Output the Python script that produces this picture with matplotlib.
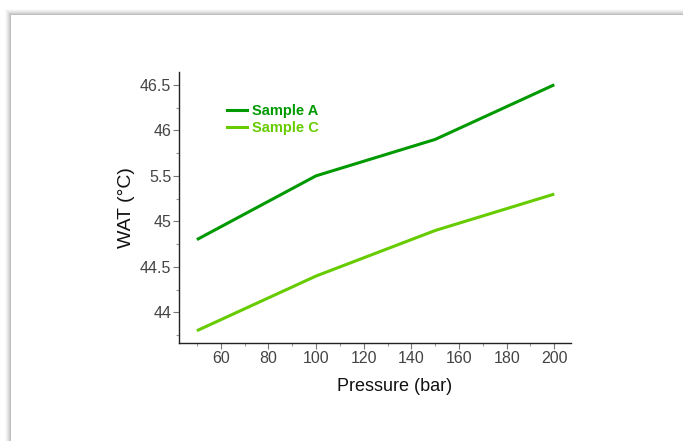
import matplotlib
matplotlib.use("Agg")
import matplotlib.pyplot as plt
from matplotlib.patches import Rectangle
from matplotlib.ticker import MultipleLocator, FixedLocator, FixedFormatter
from matplotlib.lines import Line2D

plt.rcParams['font.family'] = ['Liberation Sans', 'DejaVu Sans']

# data
pressure = [50, 100, 150, 200]
sample_a = [44.8, 45.5, 45.9, 46.5]
sample_c = [43.8, 44.4, 44.9, 45.3]
y_ticks = [44, 44.5, 45, 45.5, 46, 46.5]
y_tick_labels = ['44', '44.5', '45', '5.5', '46', '46.5']
x_ticks = [60, 80, 100, 120, 140, 160, 180, 200]

color_a = '#009a00'
color_c = '#66cc00'

W, H = 683, 441
fig = plt.figure(figsize=(W / 100, H / 100), dpi=100)
fig.patch.set_facecolor('white')

# page panel with a soft shadow on the top/left edges
for i, a in enumerate([0.02, 0.03, 0.04, 0.05, 0.06, 0.08]):
    off = 6 - i
    fig.patches.append(Rectangle(((11 - off) / W, 0), 1, (H - 15 + off) / H,
                                 transform=fig.transFigure, facecolor='black',
                                 alpha=a, edgecolor='none', zorder=-2))
fig.patches.append(Rectangle((11 / W, 0), 1, (H - 15) / H,
                             transform=fig.transFigure, facecolor='white',
                             edgecolor='none', zorder=-1))

ax = fig.add_axes([179 / W, (H - 343) / H, (571 - 179) / W, (343 - 72) / H])
ax.set_zorder(2)
ax.set_facecolor('none')

ax.plot(pressure, sample_a, color=color_a, lw=2.2, solid_capstyle='butt')
ax.plot(pressure, sample_c, color=color_c, lw=2.2, solid_capstyle='butt')

ax.set_xlim(42.5, 207)
ax.set_ylim(43.665, 46.64)

ax.xaxis.set_major_locator(FixedLocator(x_ticks))
ax.xaxis.set_minor_locator(MultipleLocator(10))
ax.yaxis.set_major_locator(FixedLocator(y_ticks))
ax.yaxis.set_major_formatter(FixedFormatter(y_tick_labels))
ax.yaxis.set_minor_locator(MultipleLocator(0.25))

for s in ['top', 'right']:
    ax.spines[s].set_visible(False)
for s in ['left', 'bottom']:
    ax.spines[s].set_color('#222222')
    ax.spines[s].set_linewidth(1.0)

ax.tick_params(which='major', length=4, width=0.8, color='#777777',
               labelsize=11.5, labelcolor='#444444', pad=1.5)
ax.tick_params(which='minor', length=2, width=0.8, color='#999999')

ax.set_xlabel('Pressure (bar)', fontsize=13, color='#111111')
ax.xaxis.set_label_coords(0.551, -0.128)
ax.set_ylabel('WAT (°C)', fontsize=14, color='#111111')
ax.yaxis.set_label_coords(-0.113, 0.5)

handles = [Line2D([], [], color=color_a, lw=2.2),
           Line2D([], [], color=color_c, lw=2.2)]
leg = ax.legend(handles, ['Sample A', 'Sample C'], loc='upper left',
                bbox_to_anchor=(0.108, 0.902), frameon=False, handlelength=1.35,
                handletextpad=0.35, labelspacing=0.2, borderaxespad=0,
                prop={'weight': 'bold', 'size': 10.5})
for t, c in zip(leg.get_texts(), [color_a, color_c]):
    t.set_color(c)

fig.savefig('out.png', dpi=100)
